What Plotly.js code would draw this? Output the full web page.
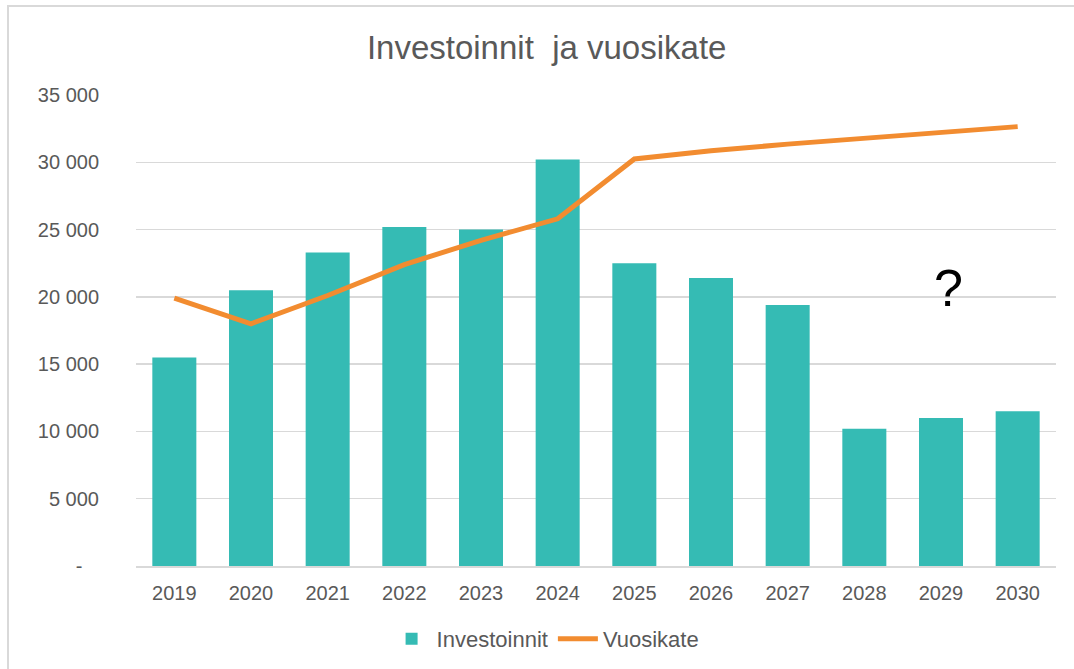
<!DOCTYPE html>
<html>
<head>
<meta charset="utf-8">
<script src="https://cdn.plot.ly/plotly-3.0.1.min.js"></script>
<style>
  html, body { margin: 0; padding: 0; background: #ffffff; }
  #wrap { position: relative; width: 1074px; height: 669px; overflow: hidden; }
  #chart { position: absolute; left: 0; top: 0; width: 1074px; height: 669px; }
  #frame { position: absolute; left: 7px; top: 5px; width: 1200px; height: 800px;
           border-top: 2px solid #d9d9d9; border-left: 2px solid #d9d9d9; pointer-events: none; }
</style>
</head>
<body>
<div id="wrap">
  <div id="chart"></div>
  <div id="frame"></div>
</div>
<script>
const years = ['2019','2020','2021','2022','2023','2024','2025','2026','2027','2028','2029','2030'];
const investoinnit = [15500, 20500, 23300, 25200, 25000, 30200, 22500, 21400, 19400, 10200, 11000, 11500];
const vuosikate = [19900, 18000, 20100, 22400, 24200, 25800, 30250, 30850, 31350, 31800, 32250, 32650];
const yTickVals = [0, 5000, 10000, 15000, 20000, 25000, 30000, 35000];
const yTickText = ['-\u00a0\u00a0\u00a0', '5 000', '10 000', '15 000', '20 000', '25 000', '30 000', '35 000'];

const fontFam = 'Liberation Sans, Arial, sans-serif';
const txtColor = '#595959';

const traces = [
  {
    type: 'bar', name: 'Investoinnit', x: years, y: investoinnit,
    marker: { color: '#35bbb4' }
  },
  {
    type: 'scatter', mode: 'lines', name: 'Vuosikate', x: years, y: vuosikate,
    line: { color: '#f28c30', width: 5 }
  }
];

const layout = {
  width: 1074, height: 669,
  margin: { l: 136, r: 18, t: 95, b: 103 },
  paper_bgcolor: '#ffffff', plot_bgcolor: '#ffffff',
  font: { family: fontFam, color: txtColor, size: 20 },
  title: {
    text: 'Investoinnit\u00a0 ja vuosikate',
    font: { family: fontFam, size: 33, color: txtColor },
    xref: 'container', x: 0.509, xanchor: 'center',
    yref: 'container', y: 1 - 47/669, yanchor: 'middle'
  },
  bargap: 0.426,
  xaxis: {
    type: 'category', categoryorder: 'array', categoryarray: years,
    range: [-0.5, 11.5], autorange: false,
    showgrid: false, zeroline: false,
    showline: true, linecolor: '#d9d9d9', linewidth: 2,
    ticks: '', ticklabelstandoff: 8,
    tickfont: { family: fontFam, size: 20, color: txtColor }
  },
  yaxis: {
    range: [0, 35000], autorange: false, tickmode: 'array', tickvals: yTickVals, ticktext: yTickText,
    showgrid: true, gridcolor: '#d9d9d9', gridwidth: 1.5, zeroline: false, showline: false,
    ticks: '', ticklabelstandoff: 36,
    tickfont: { family: fontFam, size: 20, color: txtColor }
  },
  showlegend: true,
  legend: {
    orientation: 'h', xref: 'container', x: 0.508, xanchor: 'center',
    yref: 'container', y: 1 - 639/669, yanchor: 'middle',
    font: { family: fontFam, size: 22, color: txtColor },
    itemwidth: 40
  },
  annotations: [
    { xref: 'paper', yref: 'paper', x: (948 - 136) / 920, y: (566 - 288) / 471,
      xanchor: 'center', yanchor: 'middle', text: '?', showarrow: false,
      font: { family: fontFam, size: 52, color: '#000000' } }
  ]
};

Plotly.newPlot('chart', traces, layout, { displayModeBar: false, staticPlot: true });
</script>
</body>
</html>
